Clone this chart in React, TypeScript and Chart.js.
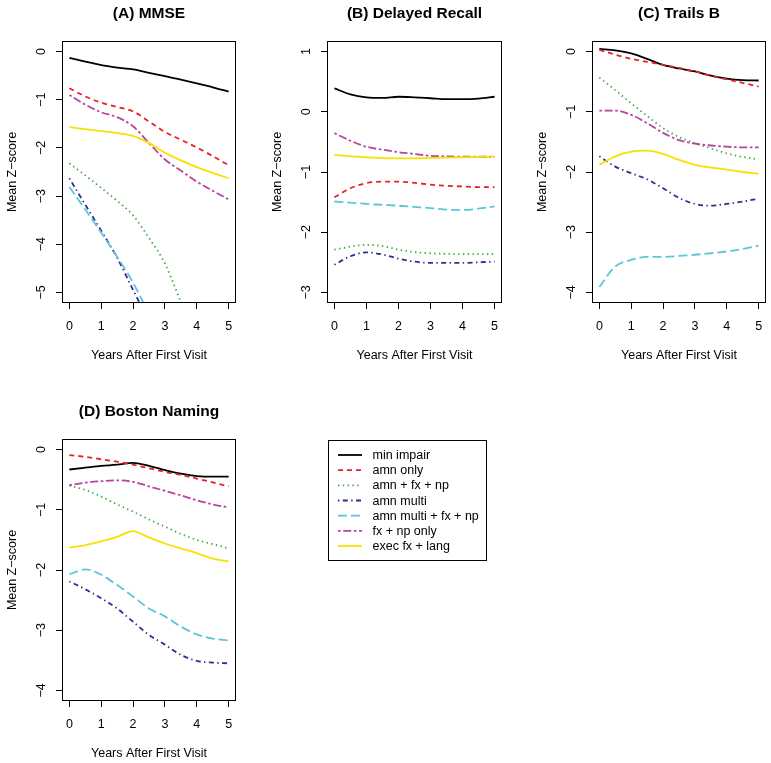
import React, { useEffect, useRef } from "react";
import { Chart, registerables } from "chart.js";

Chart.register(...registerables);

const FONT = '"Liberation Sans", Arial, Helvetica, sans-serif';

// ---------- data ----------
const groups = [
  "min impair",
  "amn only",
  "amn + fx + np",
  "amn multi",
  "amn multi + fx + np",
  "fx + np only",
  "exec fx + lang",
];
const groupColors = ["#000000", "#E8202A", "#3AAA3E", "#2D2D96", "#5CC6D8", "#B843A2", "#F6E200"];
const groupDashes = [[], [5, 4], [1.4, 3.4], [1.4, 3.4, 5, 3.4], [9, 4], [2.6, 2.6, 8, 2.6], []];

const years = [0, 0.5, 1, 1.5, 2, 2.5, 3, 3.5, 4, 4.5, 5];
const xTickValues = [0, 1, 2, 3, 4, 5];
const xTickLabels = ["0", "1", "2", "3", "4", "5"];

// (A) MMSE
const mmseMinImpair = [-0.13, -0.21, -0.28, -0.33, -0.37, -0.44, -0.51, -0.58, -0.66, -0.74, -0.83];
const mmseAmnOnly = [-0.76, -0.93, -1.06, -1.15, -1.24, -1.45, -1.67, -1.83, -1.99, -2.17, -2.36];
const mmseAmnFxNp = [-2.32, -2.57, -2.83, -3.1, -3.4, -3.87, -4.4, -5.2, -6.0];
const mmseAmnMulti = [-2.63, -3.18, -3.72, -4.28, -4.95, -5.6];
const mmseAmnMultiFxNp = [-2.81, -3.28, -3.76, -4.26, -4.8, -5.45];
const mmseFxNpOnly = [-0.9, -1.1, -1.26, -1.36, -1.55, -1.9, -2.24, -2.47, -2.7, -2.89, -3.07];
const mmseExecFxLang = [-1.57, -1.61, -1.65, -1.69, -1.75, -1.9, -2.1, -2.26, -2.4, -2.52, -2.63];
const mmseYTicks = [0, -1, -2, -3, -4, -5];
const mmseYTickLabels = ["0", "\u22121", "\u22122", "\u22123", "\u22124", "\u22125"];

// (B) Delayed Recall
const recallMinImpair = [0.39, 0.29, 0.24, 0.23, 0.25, 0.24, 0.225, 0.21, 0.21, 0.22, 0.25];
const recallAmnOnly = [-1.42, -1.27, -1.185, -1.16, -1.16, -1.18, -1.21, -1.23, -1.24, -1.25, -1.25];
const recallAmnFxNp = [-2.29, -2.24, -2.21, -2.23, -2.29, -2.33, -2.35, -2.36, -2.365, -2.365, -2.365];
const recallAmnMulti = [-2.54, -2.4, -2.335, -2.37, -2.44, -2.49, -2.51, -2.51, -2.51, -2.5, -2.49];
const recallAmnMultiFxNp = [-1.49, -1.51, -1.53, -1.545, -1.56, -1.58, -1.6, -1.625, -1.63, -1.61, -1.57];
const recallFxNpOnly = [-0.355, -0.48, -0.58, -0.63, -0.67, -0.7, -0.73, -0.74, -0.745, -0.745, -0.75];
const recallExecFxLang = [-0.715, -0.74, -0.755, -0.77, -0.775, -0.775, -0.765, -0.76, -0.755, -0.75, -0.74];
const recallYTicks = [1, 0, -1, -2, -3];
const recallYTickLabels = ["1", "0", "\u22121", "\u22122", "\u22123"];

// (C) Trails B
const trailsMinImpair = [0.045, 0.02, -0.03, -0.12, -0.22, -0.28, -0.33, -0.4, -0.45, -0.475, -0.48];
const trailsAmnOnly = [0.03, -0.05, -0.12, -0.17, -0.22, -0.27, -0.33, -0.4, -0.46, -0.52, -0.58];
const trailsAmnFxNp = [-0.43, -0.64, -0.86, -1.07, -1.27, -1.42, -1.52, -1.61, -1.69, -1.75, -1.79];
const trailsAmnMulti = [-1.74, -1.91, -2.02, -2.12, -2.27, -2.43, -2.53, -2.56, -2.53, -2.49, -2.445];
const trailsAmnMultiFxNp = [-3.91, -3.57, -3.46, -3.41, -3.41, -3.395, -3.375, -3.35, -3.32, -3.28, -3.225];
const trailsFxNpOnly = [-0.98, -0.98, -1.05, -1.19, -1.35, -1.47, -1.53, -1.56, -1.58, -1.59, -1.59];
const trailsExecFxLang = [-1.88, -1.74, -1.66, -1.645, -1.7, -1.8, -1.88, -1.925, -1.96, -2.0, -2.03];
const trailsYTicks = [0, -1, -2, -3, -4];
const trailsYTickLabels = ["0", "\u22121", "\u22122", "\u22123", "\u22124"];

// (D) Boston Naming
const bostonMinImpair = [-0.33, -0.3, -0.27, -0.25, -0.22, -0.27, -0.34, -0.4, -0.44, -0.45, -0.45];
const bostonAmnOnly = [-0.09, -0.12, -0.16, -0.2, -0.25, -0.31, -0.37, -0.42, -0.48, -0.545, -0.61];
const bostonAmnFxNp = [-0.6, -0.67, -0.78, -0.91, -1.03, -1.16, -1.28, -1.4, -1.5, -1.57, -1.64];
const bostonAmnMulti = [-2.19, -2.32, -2.47, -2.64, -2.86, -3.08, -3.24, -3.41, -3.51, -3.54, -3.55];
const bostonAmnMultiFxNp = [-2.07, -1.99, -2.08, -2.25, -2.44, -2.64, -2.77, -2.94, -3.07, -3.14, -3.17];
const bostonFxNpOnly = [-0.59, -0.55, -0.525, -0.51, -0.535, -0.61, -0.685, -0.76, -0.84, -0.91, -0.96];
const bostonExecFxLang = [-1.63, -1.585, -1.525, -1.45, -1.355, -1.46, -1.56, -1.64, -1.72, -1.81, -1.86];
const bostonYTicks = [0, -1, -2, -3, -4];
const bostonYTickLabels = ["0", "\u22121", "\u22122", "\u22123", "\u22124"];

const xTitle = "Years After First Visit";
const yTitle = "Mean Z\u2212score";

// ---------- layout ----------
type Spec = {
  title: string;
  series: number[][];
  yMin: number;
  yMax: number;
  yTicks: number[];
  yTickLabels: string[];
  canvas: { left: number; top: number; width: number; height: number };
  area: { left: number; top: number; right: number; bottom: number };
  legend?: { left: number; top: number; right: number; bottom: number };
};

const panels: Spec[] = [
  {
    title: "(A) MMSE",
    series: [mmseMinImpair, mmseAmnOnly, mmseAmnFxNp, mmseAmnMulti, mmseAmnMultiFxNp, mmseFxNpOnly, mmseExecFxLang],
    yMin: -5.2,
    yMax: 0.2,
    yTicks: mmseYTicks,
    yTickLabels: mmseYTickLabels,
    canvas: { left: 0, top: 0, width: 257, height: 380 },
    area: { left: 63, top: 42, right: 235, bottom: 302 },
  },
  {
    title: "(B) Delayed Recall",
    series: [recallMinImpair, recallAmnOnly, recallAmnFxNp, recallAmnMulti, recallAmnMultiFxNp, recallFxNpOnly, recallExecFxLang],
    yMin: -3.16,
    yMax: 1.16,
    yTicks: recallYTicks,
    yTickLabels: recallYTickLabels,
    canvas: { left: 257, top: 0, width: 257, height: 380 },
    area: { left: 71, top: 42, right: 244, bottom: 302 },
  },
  {
    title: "(C) Trails B",
    series: [trailsMinImpair, trailsAmnOnly, trailsAmnFxNp, trailsAmnMulti, trailsAmnMultiFxNp, trailsFxNpOnly, trailsExecFxLang],
    yMin: -4.16,
    yMax: 0.16,
    yTicks: trailsYTicks,
    yTickLabels: trailsYTickLabels,
    canvas: { left: 514, top: 0, width: 257, height: 380 },
    area: { left: 79, top: 42, right: 251, bottom: 302 },
  },
  {
    title: "(D) Boston Naming",
    series: [bostonMinImpair, bostonAmnOnly, bostonAmnFxNp, bostonAmnMulti, bostonAmnMultiFxNp, bostonFxNpOnly, bostonExecFxLang],
    yMin: -4.16,
    yMax: 0.16,
    yTicks: bostonYTicks,
    yTickLabels: bostonYTickLabels,
    canvas: { left: 0, top: 380, width: 771, height: 383 },
    area: { left: 63, top: 60, right: 235, bottom: 320 },
    legend: { left: 328, top: 60, right: 486, bottom: 180 },
  },
];

function rStylePlugin(spec: Spec) {
  return {
    id: "rstyle",
    afterDraw(chart: any) {
      const { ctx, chartArea: a, scales } = chart;
      ctx.save();
      ctx.setLineDash([]);
      ctx.strokeStyle = "#000";
      ctx.lineWidth = 1;
      const l = Math.round(a.left) - 0.5;
      const t = Math.round(a.top) - 0.5;
      const r = Math.round(a.right) + 0.5;
      const b = Math.round(a.bottom) + 0.5;
      ctx.strokeRect(l, t, r - l, b - t);

      ctx.fillStyle = "#000";
      ctx.font = `12.5px ${FONT}`;
      ctx.textAlign = "center";
      ctx.textBaseline = "alphabetic";
      for (const tk of scales.x.ticks) {
        ctx.fillText(String(tk.label), scales.x.getPixelForValue(tk.value), a.bottom + 27.5);
      }
      for (const tk of scales.y.ticks) {
        ctx.save();
        ctx.translate(a.left - 18, scales.y.getPixelForValue(tk.value));
        ctx.rotate(-Math.PI / 2);
        ctx.fillText(String(tk.label), 0, 0);
        ctx.restore();
      }
      // axis titles
      ctx.fillText(xTitle, (a.left + a.right) / 2, a.bottom + 57);
      ctx.save();
      ctx.translate(a.left - 47, (a.top + a.bottom) / 2);
      ctx.rotate(-Math.PI / 2);
      ctx.fillText(yTitle, 0, 0);
      ctx.restore();
      // main title
      ctx.font = `bold 15.5px ${FONT}`;
      ctx.fillText(spec.title, (a.left + a.right) / 2, a.top - 24);

      // legend
      if (spec.legend) {
        const L = spec.legend;
        ctx.lineWidth = 1;
        ctx.strokeStyle = "#000";
        ctx.strokeRect(L.left + 0.5, L.top + 0.5, L.right - L.left, L.bottom - L.top);
        ctx.font = `12.5px ${FONT}`;
        ctx.textAlign = "left";
        chart.data.datasets.forEach((ds: any, i: number) => {
          const y = L.top + 15 + i * 15.17;
          ctx.save();
          ctx.strokeStyle = ds.borderColor;
          ctx.lineWidth = ds.borderWidth;
          ctx.setLineDash(ds.borderDash || []);
          ctx.beginPath();
          ctx.moveTo(L.left + 10, y);
          ctx.lineTo(L.left + 34, y);
          ctx.stroke();
          ctx.restore();
          ctx.fillStyle = "#000";
          ctx.fillText(ds.label, L.left + 44.5, y + 4);
        });
      }
      ctx.restore();
    },
  };
}

function buildConfig(spec: Spec): any {
  const datasets = groups.map((g, gi) => ({
    label: g,
    data: spec.series[gi].map((v, i) => ({ x: years[i], y: v })),
    borderColor: groupColors[gi],
    backgroundColor: groupColors[gi],
    borderDash: groupDashes[gi],
    borderWidth: 1.8,
    pointRadius: 0,
    pointHoverRadius: 0,
    fill: false,
    cubicInterpolationMode: "monotone",
    order: groups.length - gi,
  }));
  const tickGrid = {
    display: true,
    drawOnChartArea: false,
    drawTicks: true,
    tickLength: 7,
    color: "#000",
    lineWidth: 1,
  };
  return {
    type: "line",
    data: { datasets },
    options: {
      animation: false,
      responsive: false,
      devicePixelRatio: 1,
      events: [],
      layout: {
        padding: {
          left: spec.area.left,
          top: spec.area.top,
          right: spec.canvas.width - spec.area.right,
          bottom: spec.canvas.height - spec.area.bottom,
        },
      },
      plugins: { legend: { display: false }, title: { display: false }, tooltip: { enabled: false } },
      scales: {
        x: {
          type: "linear",
          min: -0.2,
          max: 5.2,
          bounds: "data",
          grid: tickGrid,
          border: { display: false },
          ticks: {
            display: false,
            callback: (v: number) => xTickLabels[xTickValues.indexOf(v)] ?? "",
          },
          afterBuildTicks: (scale: any) => {
            scale.ticks = xTickValues.map((v) => ({ value: v }));
          },
          afterFit: (scale: any) => {
            scale.height = 0;
          },
        },
        y: {
          type: "linear",
          min: spec.yMin,
          max: spec.yMax,
          bounds: "data",
          grid: tickGrid,
          border: { display: false },
          ticks: {
            display: false,
            callback: (v: number) => spec.yTickLabels[spec.yTicks.indexOf(v)] ?? "",
          },
          afterBuildTicks: (scale: any) => {
            scale.ticks = spec.yTicks.map((v) => ({ value: v }));
          },
          afterFit: (scale: any) => {
            scale.width = 0;
          },
        },
      },
    },
    plugins: [rStylePlugin(spec)],
  };
}

function Panel({ spec }: { spec: Spec }) {
  const ref = useRef<HTMLCanvasElement>(null);
  useEffect(() => {
    if (!ref.current) return;
    const chart = new Chart(ref.current, buildConfig(spec));
    return () => chart.destroy();
  }, [spec]);
  const c = spec.canvas;
  return (
    <canvas
      ref={ref}
      width={c.width}
      height={c.height}
      style={{ position: "absolute", left: c.left, top: c.top, width: c.width, height: c.height }}
    />
  );
}

export default function App() {
  return (
    <div
      style={{
        position: "absolute",
        left: 0,
        top: 0,
        width: 771,
        height: 763,
        background: "#ffffff",
        overflow: "hidden",
      }}
    >
      {panels.map((p) => (
        <Panel key={p.title} spec={p} />
      ))}
    </div>
  );
}
